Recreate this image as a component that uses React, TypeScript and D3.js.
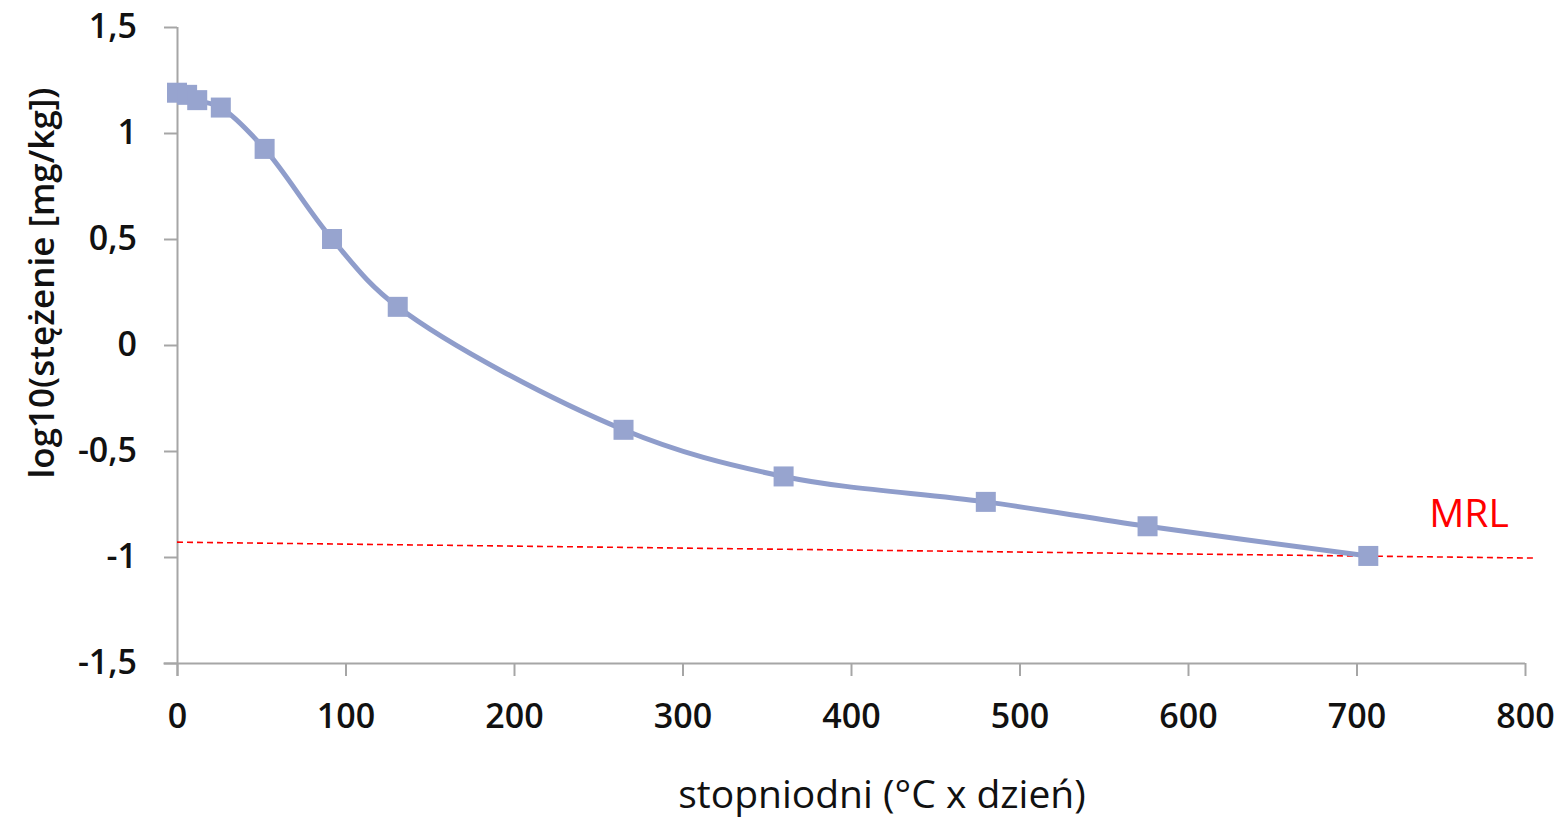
import React, { useEffect, useRef } from "react";
import * as d3 from "d3";

// stopniodni (°C x dzień)
const degreeDays = [0, 6, 12, 26, 52, 92, 131, 265, 360, 480, 576, 707];
// log10(stężenie [mg/kg])
const logConc = [1.19, 1.18, 1.155, 1.12, 0.925, 0.5, 0.18, -0.4, -0.62, -0.74, -0.855, -0.995];
// MRL line (start / end)
const mrlX = [0, 805];
const mrlY = [-0.93, -1.005];

const xTicks = [0, 100, 200, 300, 400, 500, 600, 700, 800];
const yTicks = [-1.5, -1, -0.5, 0, 0.5, 1, 1.5];

export default function App() {
  const ref = useRef<SVGSVGElement>(null);

  useEffect(() => {
    const svg = d3.select(ref.current);
    svg.selectAll("*").remove();

    const x = d3.scaleLinear().domain([0, 800]).range([177, 1525]);
    const y = d3.scaleLinear().domain([-1.5, 1.5]).range([663, 27]);
    const axisColor = "#a6a6a6";
    const font = "'Open Sans', 'Noto Sans', sans-serif";

    // osie
    const xAxis = svg
      .append("g")
      .attr("transform", `translate(0,${y(-1.5)})`)
      .call(d3.axisBottom(x).tickValues(xTicks).tickSize(13).tickPadding(28).tickFormat(d3.format("d")));
    xAxis.select(".domain").attr("d", `M163.5,0.5H${x(800)}`);

    const yAxis = svg
      .append("g")
      .attr("transform", `translate(${x(0)},0)`)
      .call(
        d3
          .axisLeft(y)
          .tickValues(yTicks)
          .tickSize(13)
          .tickPadding(27)
          .tickFormat((d) => String(d).replace(".", ","))
      );
    yAxis.select(".domain").attr("d", `M0.5,${y(1.5)}V${y(-1.5) + 13}`);

    [xAxis, yAxis].forEach((g) => {
      g.selectAll(".domain, .tick line").attr("stroke", axisColor).attr("stroke-width", 2);
      g.selectAll(".tick text")
        .attr("fill", "#111")
        .attr("font-family", font)
        .attr("font-weight", 600)
        .attr("font-size", 34);
    });

    // MRL
    svg
      .append("line")
      .attr("x1", x(mrlX[0]))
      .attr("y1", y(mrlY[0]))
      .attr("x2", x(mrlX[1]))
      .attr("y2", y(mrlY[1]))
      .attr("stroke", "#ff0000")
      .attr("stroke-width", 1.6)
      .attr("stroke-dasharray", "6,4");

    svg
      .append("text")
      .attr("x", 1469)
      .attr("y", 527)
      .attr("text-anchor", "middle")
      .attr("fill", "#ff0000")
      .attr("font-family", font)
      .attr("font-size", 39)
      .text("MRL");

    // seria
    const pts = degreeDays.map((d, i) => [d, logConc[i]] as [number, number]);
    const line = d3
      .line<[number, number]>()
      .x((d) => x(d[0]))
      .y((d) => y(d[1]))
      .curve(d3.curveCatmullRom.alpha(0.5));

    svg
      .append("path")
      .datum(pts)
      .attr("fill", "none")
      .attr("stroke", "#8f9dcb")
      .attr("stroke-width", 5)
      .attr("d", line);

    const s = 20;
    svg
      .selectAll("rect.pt")
      .data(pts)
      .enter()
      .append("rect")
      .attr("class", "pt")
      .attr("x", (d) => x(d[0]) - s / 2)
      .attr("y", (d) => y(d[1]) - s / 2)
      .attr("width", s)
      .attr("height", s)
      .attr("fill", "#97a4cf");

    // tytuły osi
    svg
      .append("text")
      .attr("x", 882)
      .attr("y", 808)
      .attr("text-anchor", "middle")
      .attr("fill", "#111")
      .attr("font-family", font)
      .attr("font-size", 39)
      .text("stopniodni (°C x dzień)");

    svg
      .append("text")
      .attr("transform", `translate(54,283) rotate(-90)`)
      .attr("text-anchor", "middle")
      .attr("fill", "#111")
      .attr("font-family", font)
      .attr("font-weight", 600)
      .attr("font-size", 35)
      .text("log10(stężenie [mg/kg])");
  }, []);

  return (
    <svg
      ref={ref}
      width={1566}
      height={818}
      style={{ position: "absolute", left: 0, top: 0, background: "#fff" }}
    />
  );
}
